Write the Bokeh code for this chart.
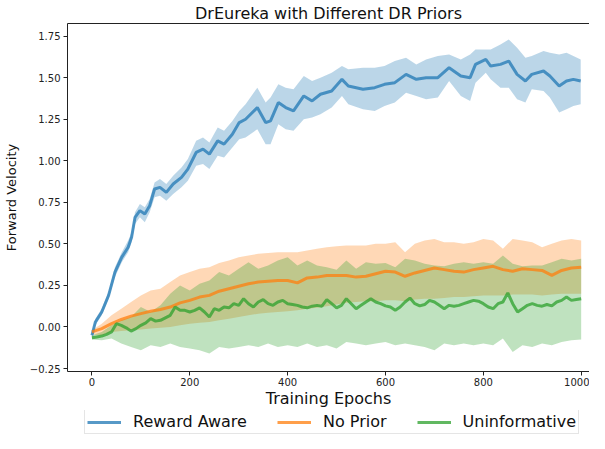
from bokeh.plotting import figure
from bokeh.models import FixedTicker, Legend, LegendItem, LinearAxis
from bokeh.layouts import column
from bokeh.embed import file_html
from bokeh.resources import INLINE

# ---------------- data ----------------
blue_epochs = [0, 7, 20, 34, 47, 61, 74, 81, 88, 98, 108, 118, 128, 139, 152, 166, 183, 196,
               213, 227, 240, 257, 270, 287, 301, 314, 338, 355, 365, 381, 396, 412, 433, 450,
               467, 490, 511, 524, 554, 578, 598, 619, 642, 663, 683, 707, 730, 754, 773, 784,
               805, 815, 835, 852, 869, 886, 899, 923, 936, 955, 970, 984, 999]
blue_mean = [-0.05, 0.03, 0.09, 0.19, 0.33, 0.42, 0.48, 0.54, 0.66, 0.70, 0.68, 0.73, 0.83, 0.84,
             0.81, 0.86, 0.90, 0.95, 1.05, 1.07, 1.04, 1.12, 1.10, 1.16, 1.23, 1.25, 1.32, 1.23,
             1.24, 1.35, 1.32, 1.30, 1.39, 1.36, 1.40, 1.42, 1.49, 1.45, 1.43, 1.44, 1.46, 1.47,
             1.52, 1.49, 1.50, 1.50, 1.56, 1.51, 1.50, 1.58, 1.61, 1.57, 1.58, 1.60, 1.52, 1.48,
             1.52, 1.54, 1.51, 1.45, 1.48, 1.49, 1.48]
blue_low = [-0.07, 0.01, 0.07, 0.17, 0.30, 0.39, 0.45, 0.51, 0.62, 0.66, 0.63, 0.69, 0.78, 0.79,
            0.76, 0.80, 0.84, 0.88, 0.97, 0.98, 0.95, 1.03, 1.02, 1.08, 1.13, 1.14, 1.19, 1.10,
            1.10, 1.22, 1.19, 1.18, 1.25, 1.26, 1.28, 1.32, 1.39, 1.34, 1.31, 1.30, 1.33, 1.35,
            1.41, 1.39, 1.37, 1.38, 1.48, 1.39, 1.36, 1.47, 1.53, 1.49, 1.44, 1.44, 1.37, 1.35,
            1.43, 1.42, 1.38, 1.29, 1.31, 1.33, 1.34]
blue_high = [-0.03, 0.05, 0.11, 0.21, 0.36, 0.45, 0.52, 0.57, 0.69, 0.74, 0.72, 0.77, 0.87, 0.89,
             0.86, 0.91, 0.96, 1.01, 1.12, 1.14, 1.11, 1.20, 1.18, 1.24, 1.30, 1.34, 1.44, 1.35,
             1.38, 1.46, 1.44, 1.43, 1.51, 1.48, 1.50, 1.53, 1.57, 1.55, 1.56, 1.56, 1.57, 1.60,
             1.62, 1.58, 1.61, 1.63, 1.64, 1.61, 1.64, 1.67, 1.67, 1.67, 1.70, 1.73, 1.68, 1.62,
             1.63, 1.66, 1.65, 1.64, 1.65, 1.63, 1.61]

band_epochs = list(range(0, 1001, 20))
orange_mean = [-0.03, -0.01, 0.02, 0.045, 0.065, 0.08, 0.095, 0.105, 0.12, 0.145, 0.16, 0.18,
               0.19, 0.215, 0.23, 0.245, 0.26, 0.27, 0.275, 0.28, 0.28, 0.265, 0.295, 0.30,
               0.31, 0.31, 0.31, 0.30, 0.305, 0.32, 0.335, 0.33, 0.305, 0.325, 0.34, 0.355,
               0.345, 0.335, 0.33, 0.345, 0.355, 0.365, 0.345, 0.335, 0.35, 0.345, 0.34, 0.31,
               0.34, 0.355, 0.36]
orange_high = [-0.02, 0.02, 0.07, 0.11, 0.15, 0.19, 0.22, 0.23, 0.27, 0.31, 0.33, 0.35, 0.36,
               0.385, 0.40, 0.42, 0.43, 0.44, 0.445, 0.45, 0.45, 0.45, 0.46, 0.47, 0.48, 0.485,
               0.49, 0.49, 0.49, 0.50, 0.50, 0.51, 0.45, 0.50, 0.52, 0.53, 0.51, 0.51, 0.50,
               0.51, 0.53, 0.52, 0.47, 0.53, 0.52, 0.51, 0.48, 0.50, 0.52, 0.53, 0.52]
orange_low = [-0.045, -0.05, -0.03, -0.025, -0.02, -0.015, -0.01, -0.005, 0.0, 0.01, 0.02,
              0.025, 0.03, 0.04, 0.05, 0.06, 0.07, 0.08, 0.085, 0.09, 0.095, 0.10, 0.11, 0.115,
              0.125, 0.135, 0.145, 0.15, 0.155, 0.155, 0.16, 0.16, 0.155, 0.165, 0.17, 0.17,
              0.175, 0.18, 0.18, 0.185, 0.19, 0.19, 0.19, 0.195, 0.195, 0.195, 0.19, 0.195,
              0.20, 0.20, 0.20]
green_high = [-0.05, -0.03, 0.01, 0.04, 0.06, 0.12, 0.09, 0.13, 0.20, 0.25, 0.22, 0.26, 0.28,
              0.33, 0.31, 0.35, 0.39, 0.35, 0.37, 0.40, 0.42, 0.37, 0.40, 0.37, 0.36, 0.345,
              0.40, 0.35, 0.39, 0.38, 0.385, 0.36, 0.41, 0.40, 0.38, 0.37, 0.365, 0.38, 0.39,
              0.38, 0.39, 0.38, 0.43, 0.38, 0.365, 0.37, 0.37, 0.39, 0.41, 0.40, 0.41]
green_low = [-0.075, -0.08, -0.07, -0.10, -0.12, -0.14, -0.11, -0.12, -0.10, -0.12, -0.13,
             -0.14, -0.16, -0.12, -0.13, -0.12, -0.11, -0.12, -0.10, -0.12, -0.11, -0.12,
             -0.10, -0.12, -0.11, -0.13, -0.09, -0.10, -0.11, -0.10, -0.09, -0.11, -0.10,
             -0.11, -0.12, -0.14, -0.10, -0.11, -0.10, -0.11, -0.10, -0.11, -0.07, -0.15,
             -0.11, -0.12, -0.10, -0.11, -0.09, -0.08, -0.075]

green_epochs = list(range(0, 1001, 10))
green_mean = [-0.065, -0.06, -0.055, -0.045, -0.03, 0.02, 0.01, -0.005, -0.025, -0.01,
              0.01, 0.025, 0.05, 0.035, 0.04, 0.055, 0.07, 0.12, 0.10, 0.10,
              0.09, 0.10, 0.115, 0.09, 0.06, 0.11, 0.10, 0.12, 0.115, 0.14,
              0.13, 0.17, 0.14, 0.12, 0.15, 0.165, 0.14, 0.13, 0.15, 0.16,
              0.14, 0.135, 0.13, 0.12, 0.115, 0.125, 0.13, 0.125, 0.165, 0.14,
              0.115, 0.13, 0.17, 0.14, 0.11, 0.13, 0.15, 0.17, 0.15, 0.14,
              0.127, 0.12, 0.10, 0.12, 0.15, 0.174, 0.14, 0.127, 0.135, 0.16,
              0.15, 0.13, 0.11, 0.13, 0.125, 0.13, 0.14, 0.15, 0.16, 0.155,
              0.14, 0.12, 0.11, 0.14, 0.15, 0.205, 0.14, 0.09, 0.11, 0.13,
              0.14, 0.13, 0.125, 0.135, 0.127, 0.15, 0.16, 0.18, 0.16, 0.165,
              0.17]

series_names = ["Reward Aware", "No Prior", "Uninformative"]
series_colors = ["#1f77b4", "#ff7f0e", "#2ca02c"]
y_ticks = [-0.25, 0.0, 0.25, 0.5, 0.75, 1.0, 1.25, 1.5, 1.75]
y_tick_labels = ["\u22120.25", "0.00", "0.25", "0.50", "0.75", "1.00", "1.25", "1.50", "1.75"]
x_ticks = [0, 200, 400, 600, 800, 1000]

FONT = "DejaVu Sans"
AX = "#222222"
X_START, X_END = -50, 1017
NAN = float("nan")

p = figure(width=589, height=410, x_range=(X_START, X_END), y_range=(-0.268, 1.826),
           output_backend="svg", toolbar_location=None,
           title="DrEureka with Different DR Priors",
           min_border_left=63, min_border_right=0, min_border_top=19, min_border_bottom=37)

p.title.text_font = FONT
p.title.text_font_size = "16px"
p.title.text_font_style = "normal"
p.title.text_color = "#111111"
p.title.align = "center"
p.title.standoff = 2
p.title.offset = 0

p.grid.visible = False
p.outline_line_color = None

xa = p.below[0]
ya = p.left[0]

# top spine (no ticks, no labels)
top_axis = LinearAxis(ticker=FixedTicker(ticks=[X_START, X_END]), bounds=(X_START, X_END),
                      axis_line_color=AX, major_tick_line_color=None,
                      major_tick_out=0, major_tick_in=0, minor_tick_line_color=None,
                      major_label_standoff=0, major_label_text_font_size="0px",
                      major_label_text_color=None, axis_label_standoff=0)
p.add_layout(top_axis, "above")

# bands
p.varea(x=blue_epochs, y1=blue_low, y2=blue_high, fill_color=series_colors[0], fill_alpha=0.3)
p.varea(x=band_epochs, y1=orange_low, y2=orange_high, fill_color=series_colors[1], fill_alpha=0.3)
p.varea(x=band_epochs, y1=green_low, y2=green_high, fill_color=series_colors[2], fill_alpha=0.3)

# lines
LW, LA = 3, 0.75
p.line(blue_epochs, blue_mean, line_color=series_colors[0], line_width=LW, line_alpha=LA)
p.line(band_epochs, orange_mean, line_color=series_colors[1], line_width=LW, line_alpha=LA)
p.line(green_epochs, green_mean, line_color=series_colors[2], line_width=LW, line_alpha=LA)

for ax in (xa, ya):
    ax.axis_line_color = AX
    ax.major_tick_line_color = AX
    ax.major_tick_in = 0
    ax.major_tick_out = 4
    ax.minor_tick_line_color = None
    ax.major_label_text_font = FONT
    ax.major_label_text_font_size = "10px"
    ax.major_label_text_color = AX
    ax.axis_label_text_font = FONT
    ax.axis_label_text_font_style = "normal"
    ax.axis_label_text_color = "#111111"

xa.ticker = FixedTicker(ticks=x_ticks)
xa.axis_label = "Training Epochs"
xa.axis_label_text_font_size = "16px"
xa.axis_label_standoff = 0
xa.major_label_standoff = 2

ya.ticker = FixedTicker(ticks=y_ticks)
ya.major_label_overrides = {t: l for t, l in zip(y_ticks, y_tick_labels)}
ya.axis_label = "Forward Velocity"
ya.axis_label_text_font_size = "13px"
ya.axis_label_standoff = 8
ya.major_label_standoff = 3

# legend strip below the chart (proxy renderers hold no visible data)
pl = figure(width=589, height=24, x_range=(0, 1), y_range=(0, 1),
            x_axis_location=None, y_axis_location=None,
            output_backend="svg", toolbar_location=None, min_border=0)
pl.grid.visible = False
pl.outline_line_color = None
leg_renderers = [pl.line(x=[NAN], y=[NAN], line_color=c, line_width=LW, line_alpha=LA)
                 for c in series_colors]
legend = Legend(items=[LegendItem(label=n, renderers=[r]) for n, r in
                       zip(series_names, leg_renderers)],
                orientation="horizontal", location=(17, 0))
legend.label_text_font = FONT
legend.label_text_font_size = "16px"
legend.label_text_color = "#111111"
legend.label_height = 18
legend.glyph_width = 34
legend.glyph_height = 18
legend.label_standoff = 12
legend.spacing = 30
legend.padding = 2
legend.margin = 0
legend.border_line_color = "#cccccc"
legend.border_line_width = 1
legend.background_fill_alpha = 0.8
pl.add_layout(legend, "center")

layout = column(p, pl, spacing=0)
open("out.html", "w").write(file_html(layout, INLINE))
